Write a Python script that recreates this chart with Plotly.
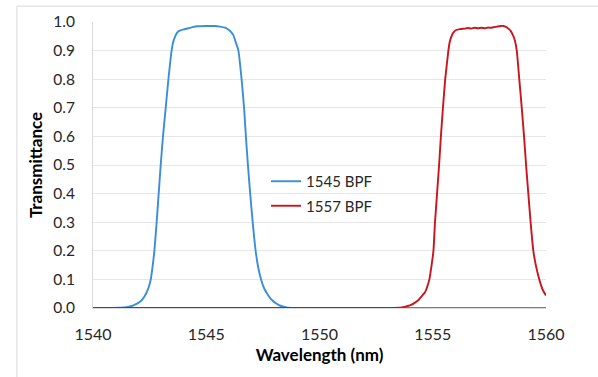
import plotly.graph_objects as go

# 1545 BPF
bpf1545_wl = [1540.75, 1541.1, 1541.49, 1541.7, 1541.85, 1542.0, 1542.15, 1542.27, 1542.37, 1542.47,
              1542.55, 1542.63, 1542.71, 1542.81, 1542.9, 1542.99, 1543.09, 1543.21, 1543.33, 1543.47,
              1543.54, 1543.62, 1543.7, 1543.81, 1544.0, 1544.21, 1544.4, 1544.6, 1545.0, 1545.39,
              1545.6, 1545.83, 1546.0, 1546.1, 1546.19, 1546.3, 1546.42, 1546.56, 1546.67, 1546.75,
              1546.84, 1546.94, 1547.05, 1547.18, 1547.3, 1547.42, 1547.55, 1547.74, 1547.9, 1548.11,
              1548.3, 1548.55, 1548.92, 1552.0, 1556.0, 1560.0]
bpf1545_t = [0.0, 0.001, 0.003, 0.007, 0.012, 0.018, 0.027, 0.04, 0.055, 0.075,
             0.1, 0.145, 0.2, 0.3, 0.4, 0.5, 0.6, 0.7, 0.8, 0.9,
             0.93, 0.948, 0.961, 0.969, 0.974, 0.978, 0.982, 0.985, 0.986, 0.986,
             0.984, 0.98, 0.972, 0.965, 0.955, 0.93, 0.9, 0.8, 0.7, 0.6,
             0.5, 0.4, 0.3, 0.2, 0.14, 0.1, 0.07, 0.044, 0.028, 0.015,
             0.007, 0.002, 0.0, 0.0, 0.0, 0.0]

# 1557 BPF
bpf1557_wl = [1540.0, 1545.0, 1550.0, 1553.0, 1553.63, 1553.9, 1554.07, 1554.2, 1554.36, 1554.5,
              1554.66, 1554.76, 1554.85, 1554.94, 1555.03, 1555.1, 1555.19, 1555.28, 1555.36, 1555.45,
              1555.55, 1555.69, 1555.75, 1555.81, 1555.9, 1556.01, 1556.2, 1556.42, 1556.55, 1556.7,
              1556.85, 1557.0, 1557.15, 1557.3, 1557.45, 1557.53, 1557.7, 1557.85, 1558.0, 1558.12,
              1558.25, 1558.35, 1558.44, 1558.55, 1558.63, 1558.71, 1558.82, 1558.93, 1559.03, 1559.12,
              1559.22, 1559.32, 1559.44, 1559.55, 1559.66, 1559.8, 1559.9, 1560.0]
bpf1557_t = [0.0, 0.0, 0.0, 0.0, 0.002, 0.007, 0.012, 0.018, 0.027, 0.04,
             0.055, 0.075, 0.1, 0.145, 0.2, 0.3, 0.4, 0.5, 0.6, 0.7,
             0.8, 0.9, 0.93, 0.946, 0.962, 0.971, 0.975, 0.977, 0.979, 0.977,
             0.98, 0.978, 0.98, 0.978, 0.981, 0.98, 0.982, 0.984, 0.986, 0.986,
             0.982, 0.976, 0.969, 0.952, 0.934, 0.9, 0.8, 0.7, 0.6, 0.5,
             0.4, 0.3, 0.2, 0.15, 0.113, 0.075, 0.057, 0.044]

x_ticks = [1540, 1545, 1550, 1555, 1560]
y_ticks = [0.0, 0.1, 0.2, 0.3, 0.4, 0.5, 0.6, 0.7, 0.8, 0.9, 1.0]

FONT = "Lato, 'Open Sans', sans-serif"
fig = go.Figure()
fig.add_trace(go.Scatter(x=bpf1545_wl, y=bpf1545_t, mode="lines", name="1545 BPF",
                         line=dict(color="#3A8ED8", width=1.9, shape="spline", smoothing=0.5),
                         legendgroup="a"))
fig.add_trace(go.Scatter(x=bpf1557_wl, y=bpf1557_t, mode="lines", name="1557 BPF",
                         line=dict(color="#C8151E", width=1.9, shape="spline", smoothing=0.4),
                         legendgroup="b"))

fig.update_layout(
    width=598, height=377,
    margin=dict(l=93, r=52, t=20, b=69),
    paper_bgcolor="white", plot_bgcolor="white",
    font=dict(family=FONT, size=15, color="#262626"),
    showlegend=True,
    legend=dict(x=0.382, y=0.5, xanchor="left", yanchor="top",
                bgcolor="rgba(0,0,0,0)", font=dict(size=15, color="#262626"),
                traceorder="grouped", tracegroupgap=2),
    shapes=[dict(type="rect", xref="paper", yref="paper", x0=-0.168, x1=1.5, y0=-0.6, y1=1.0556,
                 line=dict(color="#d9d9d9", width=1), fillcolor="rgba(0,0,0,0)", layer="below")],
)
fig.update_xaxes(range=[1540, 1560], tickvals=x_ticks, ticktext=[str(v) for v in x_ticks],
                 showgrid=False, zeroline=False, showline=True, linecolor="#d9d9d9",
                 layer="below traces", ticks="", ticklabelstandoff=12,
                 tickfont=dict(size=16),
                 title=dict(text="<b>Wavelength (nm)</b>", font=dict(size=17, color="#000000"), standoff=6))
fig.update_yaxes(range=[0, 1.0], tickvals=y_ticks, ticktext=[f"{v:.1f}" for v in y_ticks],
                 showgrid=True, gridcolor="#e6e6e6", gridwidth=1, zeroline=False,
                 showline=True, linecolor="#d9d9d9", layer="below traces",
                 ticks="", ticklabelstandoff=14, tickfont=dict(size=15.5),
                 title=dict(text="<b>Transmittance</b>", font=dict(size=17, color="#000000"), standoff=6))

fig.write_html("out.html", config={"displayModeBar": False},
               post_script="document.body.style.margin='0';document.body.style.overflow='hidden';")
